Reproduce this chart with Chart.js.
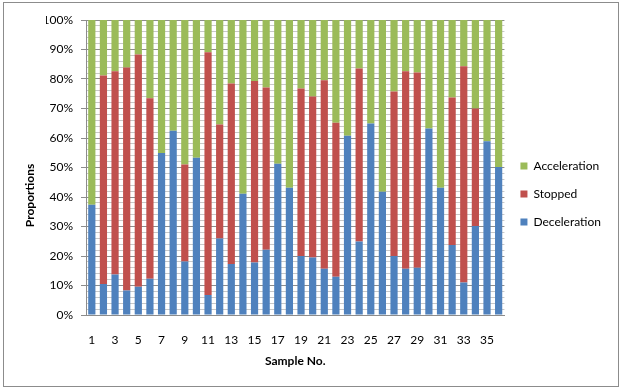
<!DOCTYPE html>
<html><head><meta charset="utf-8">
<script src="https://cdn.jsdelivr.net/npm/chart.js@4"></script>
<style>
html,body{margin:0;padding:0;background:#fff;}
#frame{position:absolute;left:3px;top:2px;width:614px;height:383px;border:1px solid #8c8c8c;}
#wrap{position:absolute;left:0;top:0;width:623px;height:388px;}
</style></head>
<body>
<div id="frame"></div>
<div id="wrap"><canvas id="c" width="623" height="388"></canvas></div>
<script>
const categories = ['1','2','3','4','5','6','7','8','9','10','11','12','13','14','15','16','17','18','19','20','21','22','23','24','25','26','27','28','29','30','31','32','33','34','35','36'];
const deceleration = [37.4,10.5,13.7,8.3,9.6,12.3,54.9,62.5,18.1,53.3,6.8,25.9,17.3,41.1,17.8,22.1,51.3,43.1,20.0,19.5,15.7,13.0,60.8,24.9,64.9,41.8,20.0,15.7,16.0,63.2,43.1,23.7,11.0,30.2,58.9,50.2];
const stopped = [0,70.7,68.9,75.6,78.7,61.2,0,0,32.9,0,82.3,38.7,61.2,0,61.5,55.0,0,0,56.8,54.6,63.9,52.2,0,58.7,0,0,55.8,66.9,66.2,0,0,50.0,73.3,39.8,0,0];
const acceleration = [62.6,18.8,17.4,16.1,11.7,26.5,45.1,37.5,49.0,46.7,10.9,35.4,21.5,58.9,20.7,22.9,48.7,56.9,23.2,25.9,20.4,34.8,39.2,16.4,35.1,58.2,24.2,17.4,17.8,36.8,56.9,26.3,15.7,30.0,41.1,49.8];
const seriesNames = ['Deceleration','Stopped','Acceleration'];
const colors = ['#4F81BD','#C0504D','#9BBB59'];
const FONT = 'Lato, "Liberation Sans", sans-serif';

const yTitlePlugin = {
  id:'yTitle',
  afterDraw(chart){
    const ctx = chart.ctx, a = chart.chartArea;
    ctx.save();
    ctx.font = 'bold 12px ' + FONT;
    ctx.fillStyle = '#000';
    ctx.textAlign = 'center';
    ctx.textBaseline = 'middle';
    ctx.translate(30, (a.top + a.bottom)/2 + 28);
    ctx.rotate(-Math.PI/2);
    ctx.fillText('Proportions', 0, 0);
    ctx.restore();
  }
};

new Chart(document.getElementById('c'), {
  type:'bar',
  data:{
    labels: categories,
    datasets: [deceleration, stopped, acceleration].map((d,i)=>({
      label: seriesNames[i], data: d, backgroundColor: colors[i],
      borderWidth:0, barPercentage:0.62, categoryPercentage:1
    }))
  },
  options:{
    responsive:false, animation:false,
    layout:{padding:{left:46, top:20, right:12, bottom:20}},
    plugins:{
      legend:{position:'right', reverse:true,
        labels:{boxWidth:7, boxHeight:7, padding:16, color:'#000', font:{family:FONT, size:12}}},
      tooltip:{enabled:false}
    },
    scales:{
      x:{stacked:true,
        afterFit:(s)=>{ s.height = 53; },
        grid:{display:false, drawTicks:false},
        border:{display:true, color:'#8c8c8c'},
        ticks:{autoSkip:false, maxRotation:0, padding:18, color:'#000', font:{family:FONT,size:12},
          callback:(v,i)=> i%2===0 ? categories[i] : ''},
        title:{display:true, text:'Sample No.', color:'#000', font:{family:FONT,size:12,weight:'bold'}, padding:{top:5,bottom:0}}
      },
      y:{stacked:true, min:0, max:100,
        afterFit:(s)=>{ s.width = 40; },
        grid:{color:(c)=> (c.tick && c.tick.value%10===0) ? '#8c8c8c' : '#c8c8c8',
              tickColor:(c)=> (c.tick && c.tick.value%10===0) ? '#8c8c8c' : 'rgba(0,0,0,0)',
              tickLength:5, lineWidth:1},
        border:{display:true, color:'#8c8c8c'},
        ticks:{stepSize:2, autoSkip:false, padding:8, color:'#000', font:{family:FONT,size:12},
          callback:(v)=> v%10===0 ? v+'%' : ''}
      }
    }
  },
  plugins:[yTitlePlugin]
});
</script>
</body></html>
